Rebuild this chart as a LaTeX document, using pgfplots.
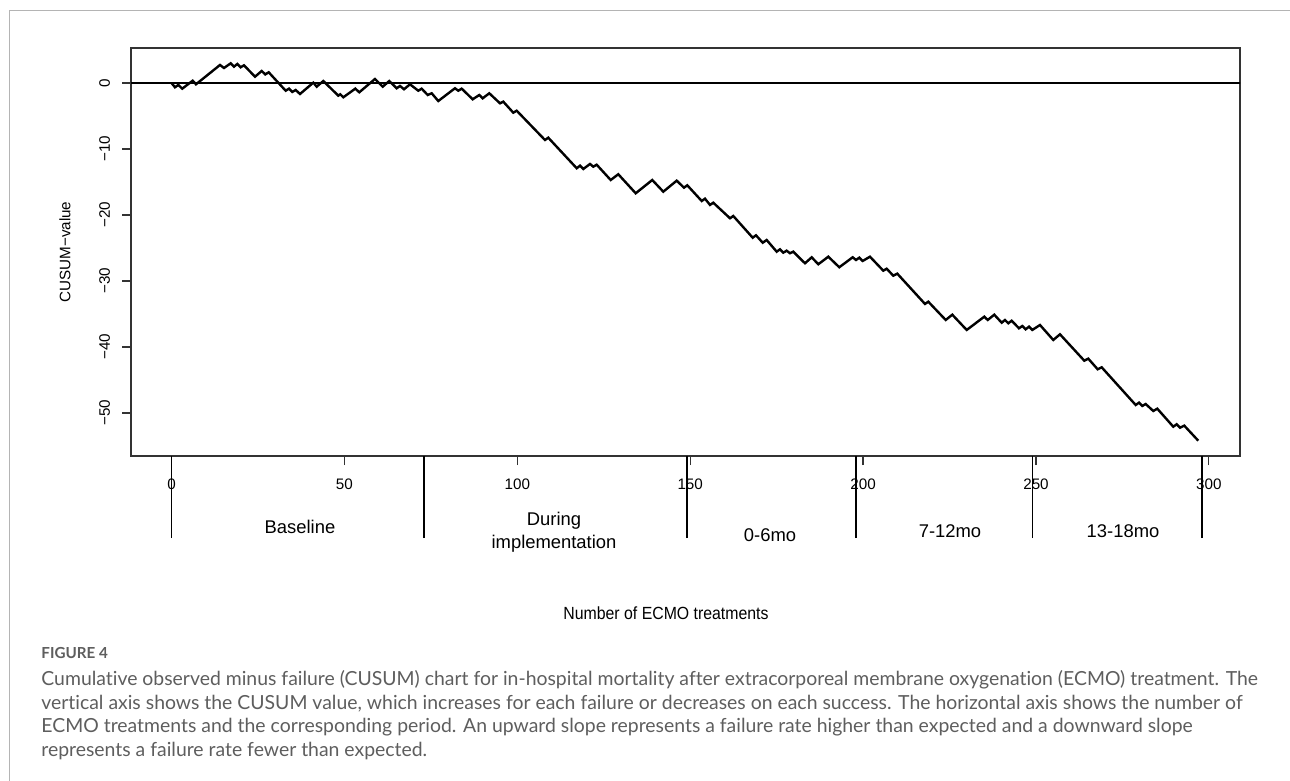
\documentclass[border=0pt]{standalone}
\usepackage{pgfplots}
\pgfplotsset{compat=1.18}
\usepackage{fontspec}
\setmainfont{Liberation Sans}
\newfontfamily\capfont[Ligatures=NoCommon]{Lato}
\definecolor{capgray}{HTML}{5E5E5E}
\definecolor{framegray}{HTML}{B4B4B4}
\begin{document}
\begin{tikzpicture}
\useasboundingbox (0,0) rectangle (645pt,-390.5pt);
\fill[white] (0,0) rectangle (645pt,-390.5pt);
\begin{scope}[x=0.5pt,y=-0.5pt]
\draw[framegray, line width=0.6pt] (9.5,785) -- (9.5,10.5) -- (1295,10.5);
\end{scope}
\begin{axis}[
  at={(65.5pt,-228pt)}, anchor=south west,
  scale only axis, width=554.5pt, height=204pt,
  xmin=-11.71, xmax=309.0, ymin=-56.52, ymax=5.30,
  axis line style={black!80, line width=0.8pt},
  tick pos=left,
  tick align=outside,
  major tick length=4.5pt,
  every tick/.style={black!80, line width=0.6pt},
  xtick={0,50,...,300},
  ytick={-50,-40,-30,-20,-10,0},
  yticklabels={−50,−40,−30,−20,−10,0},
  ticklabel style={font=\fontsize{7.6}{8}\selectfont},
  /pgf/number format/assume math mode=true,
  xticklabel style={anchor=north, yshift=-3.2pt},
  yticklabel style={xshift=-2.5pt, rotate=90, anchor=south},
  extra x ticks={0,73,149,198,249,298},
  extra x tick labels={},
  extra x tick style={major tick length=41pt, tick align=outside, every tick/.style={black, line width=0.9pt}},
  xlabel={Number of ECMO treatments},
  ylabel={CUSUM−value},
  every axis x label/.style={at={(axis description cs:0.4824,-0.3848)}, anchor=center, font=\fontsize{8.8}{10}\selectfont, xscale=0.9},
  every axis y label/.style={at={(axis description cs:-0.0595,0.5)}, rotate=90, anchor=center, font=\fontsize{7.6}{9}\selectfont},
]
\addplot[black, line width=0.7pt] coordinates {(-20,0) (320,0)};
\addplot[black, line width=1.2pt, line join=miter] coordinates {
(0,0) (1.01,-0.65) (1.97,-0.30) (3.12,-0.86) (6.13,0.35) (7.08,-0.20)
(14.03,2.73) (15.18,2.27) (17.12,2.98) (18.07,2.47) (19.03,2.88) (20.01,2.38)
(20.97,2.68) (24.15,0.95) (26.08,1.82) (27.13,1.30) (28.11,1.62) (33.02,-1.17)
(33.98,-0.86) (34.93,-1.36) (35.92,-1.06) (37.16,-1.67) (41.01,0.05) (41.99,-0.56)
(43.90,0.30) (48.24,-1.92) (48.80,-1.71) (49.68,-2.17) (53.15,-0.86) (54.31,-1.41)
(58.85,0.61) (61.08,-0.56) (62.98,0.30) (65.12,-0.80) (66.08,-0.45) (67.24,-0.95)
(68.97,-0.20) (71.37,-1.17) (72.35,-0.86) (74.09,-1.82) (75.25,-1.56) (77.15,-2.73)
(81.98,-0.80) (82.94,-1.17) (83.92,-0.86) (87.10,-2.47) (89.01,-1.82) (90.00,-2.32)
(91.90,-1.56) (95.00,-3.08) (95.95,-2.83) (98.84,-4.50) (99.83,-4.20) (108.01,-8.64)
(108.96,-8.29) (117.18,-12.92) (118.13,-12.53) (119.09,-13.03) (121.02,-12.27) (121.98,-12.68)
(122.96,-12.38) (127.01,-14.70) (129.21,-13.83) (134.24,-16.71) (139.04,-14.70) (142.22,-16.47)
(146.10,-14.80) (148.21,-15.86) (149.16,-15.50) (153.33,-17.88) (154.28,-17.53) (155.73,-18.48)
(156.68,-18.14) (161.51,-20.50) (162.46,-20.15) (168.07,-23.44) (169.03,-23.08) (170.97,-24.20)
(172.12,-23.79) (175.01,-25.56) (175.97,-25.20) (176.92,-25.71) (177.90,-25.41) (178.86,-25.80)
(179.81,-25.56) (183.20,-27.32) (185.14,-26.41) (187.04,-27.47) (189.94,-26.32) (193.12,-27.92)
(196.99,-26.41) (197.95,-26.82) (198.90,-26.47) (199.88,-26.97) (201.99,-26.32) (205.84,-28.44)
(206.82,-28.14) (208.73,-29.20) (209.89,-28.89) (217.90,-33.48) (218.86,-33.14) (223.89,-35.91)
(225.80,-35.11) (229.96,-37.42) (235.05,-35.41) (236.04,-35.91) (237.94,-35.11) (240.08,-36.32)
(241.04,-35.91) (241.99,-36.41) (242.97,-36.02) (245.08,-37.17) (246.04,-36.82) (247.02,-37.32)
(247.98,-36.92) (248.93,-37.42) (251.16,-36.67) (255.00,-38.94) (256.94,-38.08) (263.97,-42.08)
(265.12,-41.77) (267.84,-43.38) (269.00,-43.08) (278.83,-48.79) (279.79,-48.44) (280.74,-48.94)
(281.72,-48.64) (283.92,-49.70) (285.08,-49.35) (289.70,-52.08) (290.69,-51.71) (291.64,-52.23)
(292.88,-51.92) (296.93,-54.20)
};
\end{axis}
\begin{scope}[x=0.5pt,y=-0.5pt]
\tikzset{per/.style={font=\fontsize{9.2}{11}\selectfont, inner sep=0pt, anchor=center}}
\node[per] at (300,527) {Baseline};
\node[per] at (554,520.5) {During};
\node[per] at (554,544) {implementation};
\node[per] at (770,535) {0-6mo};
\node[per] at (950,531) {7-12mo};
\node[per] at (1123,531) {13-18mo};
\tikzset{captxt/.style={font=\capfont\fontsize{9.7}{11}\selectfont, text=capgray, inner sep=0pt, anchor=west}}
\node[captxt, font=\capfont\bfseries\fontsize{7.6}{9}\selectfont] at (41,653) {FIGURE 4};
\node[captxt] at (41,680) {Cumulative observed minus failure (CUSUM) chart for in-hospital mortality after extracorporeal membrane oxygenation (ECMO) treatment. The};
\node[captxt] at (41,703.5) {vertical axis shows the CUSUM value, which increases for each failure or decreases on each success. The horizontal axis shows the number of};
\node[captxt] at (41,727) {ECMO treatments and the corresponding period. An upward slope represents a failure rate higher than expected and a downward slope};
\node[captxt] at (41,751) {represents a failure rate fewer than expected.};
\end{scope}
\end{tikzpicture}
\end{document}
